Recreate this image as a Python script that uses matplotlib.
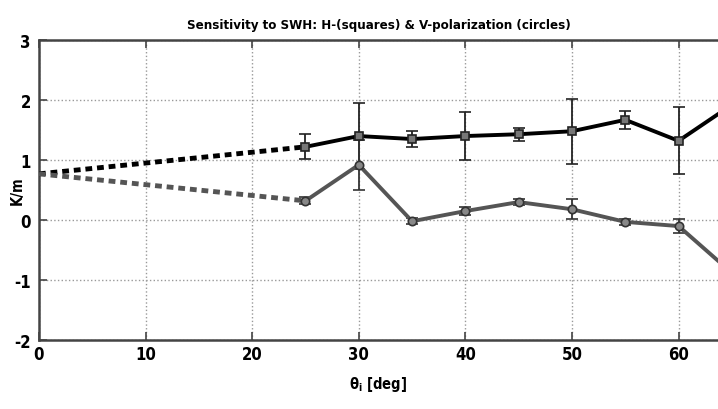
import matplotlib
matplotlib.use("Agg")
from matplotlib import pyplot as plt

# Data
angles = [25, 30, 35, 40, 45, 50, 55, 60, 65]
h_vals = [1.22, 1.40, 1.35, 1.40, 1.43, 1.48, 1.67, 1.32, 1.92]
h_err = [0.21, 0.55, 0.13, 0.40, 0.11, 0.54, 0.15, 0.56, 0.0]
v_vals = [0.32, 0.92, -0.02, 0.15, 0.30, 0.18, -0.03, -0.10, -0.88]
v_err = [0.06, 0.42, 0.05, 0.07, 0.05, 0.17, 0.05, 0.11, 0.0]

# extrapolated start at 0 deg
start_angle = 0
start_val = 0.77

plt.rcParams['font.family'] = ['DejaVu Sans']
plt.rcParams['font.stretch'] = 'condensed'
plt.rcParams['font.weight'] = 'bold'
plt.rcParams['axes.unicode_minus'] = False
plt.rcParams['mathtext.default'] = 'regular'

fig = plt.figure(figsize=(7.18, 4.10), dpi=100)
ax = fig.add_axes([0.0543, 0.168, 0.9457, 0.732])

# dashed extrapolations to 0 deg
ax.plot([start_angle, angles[0]], [start_val, h_vals[0]], color="black",
        lw=3.5, ls=(0, (1.4, 1.0)), zorder=3)
ax.plot([start_angle, angles[0]], [start_val, v_vals[0]], color="#555555",
        lw=3.5, ls=(0, (1.4, 1.0)), zorder=3)

# measured series with error bars
ax.errorbar(angles, h_vals, yerr=h_err, color="black", lw=2.8, marker="s",
            ms=6, mfc="#777777", mec="#222222", mew=1.2,
            ecolor="#222222", elinewidth=1.3, capsize=4, capthick=1.3, zorder=4)
ax.errorbar(angles, v_vals, yerr=v_err, color="#555555", lw=2.8, marker="o",
            ms=6, mfc="#888888", mec="#333333", mew=1.2,
            ecolor="#333333", elinewidth=1.3, capsize=4, capthick=1.3, zorder=4)

ax.set_xlim(0, 63.7)
ax.set_ylim(-2, 3)
ax.set_xticks(range(0, 61, 10))
ax.set_yticks(range(-2, 4))
ax.grid(True, ls=":", color="#999999", lw=1.0)
ax.tick_params(direction="in", length=6, labelsize=12, color="#444444",
               width=1.2, top=True)
ax.tick_params(axis="y", pad=6)

for side in ["top", "left", "bottom"]:
    ax.spines[side].set_linewidth(1.8)
    ax.spines[side].set_color("#444444")
ax.spines["right"].set_visible(False)

ax.set_title("Sensitivity to SWH: H-(squares) & V-polarization (circles)",
             fontsize=9.5, fontweight="bold", x=0.5, pad=9)
ax.set_xlabel(r"$\theta_i$ [deg]", fontsize=10.5, fontweight="bold", labelpad=8)
fig.text(0.024, 0.535, "K/m", rotation=90, fontsize=10.5, fontweight="bold",
         ha="center", va="center")

fig.savefig("out.png", dpi=100)
